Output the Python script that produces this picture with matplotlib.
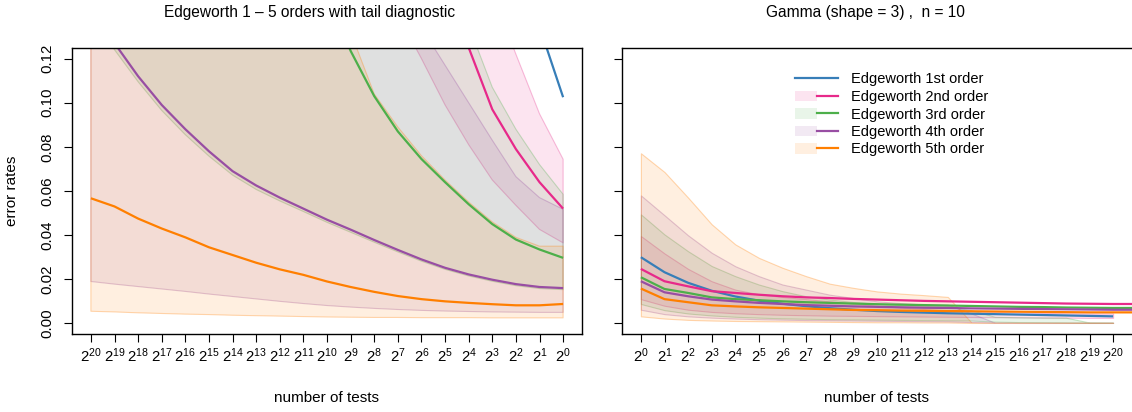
import matplotlib
matplotlib.use("Agg")
import matplotlib.pyplot as plt
import numpy as np
from matplotlib.colors import to_rgba
from matplotlib.lines import Line2D
from matplotlib.patches import Patch
from matplotlib.legend_handler import HandlerTuple

plt.rcParams["font.family"] = ["Liberation Sans", "DejaVu Sans"]
plt.rcParams["mathtext.fontset"] = "custom"
plt.rcParams["mathtext.rm"] = "Liberation Sans"
plt.rcParams["mathtext.it"] = "Liberation Sans:italic"
plt.rcParams["mathtext.bf"] = "Liberation Sans:bold"

FS = 10.5

# ---- labels -------------------------------------------------------------
ORDER_LABELS = ["Edgeworth 1st order", "Edgeworth 2nd order", "Edgeworth 3rd order",
                "Edgeworth 4th order", "Edgeworth 5th order"]
COLORS = ["#377EB8", "#E7298A", "#4DAF4A", "#984EA3", "#FF7F00"]
LEFT_EXP = list(range(20, -1, -1))   # tick labels 2^20 ... 2^0
RIGHT_EXP = list(range(0, 21))       # tick labels 2^0 ... 2^20

# ---- left panel: Edgeworth 1-5 with tail diagnostic ----------------------
left_o1 = [0.60, 0.55, 0.50, 0.46, 0.42, 0.39, 0.36, 0.33, 0.31, 0.29, 0.27,
           0.25, 0.235, 0.22, 0.205, 0.19, 0.178, 0.165, 0.15, 0.1345, 0.1025]
left_o2 = [0.90, 0.80, 0.72, 0.65, 0.58, 0.52, 0.47, 0.42, 0.38, 0.34, 0.31,
           0.28, 0.25, 0.22, 0.19, 0.16, 0.125, 0.097, 0.079, 0.064, 0.052]
left_o3 = [0.62, 0.56, 0.50, 0.45, 0.40, 0.36, 0.32, 0.28, 0.24, 0.19, 0.15,
           0.1235, 0.103, 0.087, 0.0745, 0.064, 0.054, 0.045, 0.038, 0.0335, 0.0297]
left_o4 = [0.142, 0.127, 0.112, 0.099, 0.088, 0.078, 0.069, 0.0625, 0.057, 0.052, 0.047,
           0.0425, 0.0378, 0.0333, 0.029, 0.0252, 0.0222, 0.0198, 0.0178, 0.0165, 0.016]
left_o5 = [0.0567, 0.053, 0.0475, 0.043, 0.039, 0.0345, 0.031, 0.0275, 0.0245, 0.022, 0.019,
           0.0165, 0.0143, 0.0124, 0.011, 0.0100, 0.0093, 0.0087, 0.0082, 0.0082, 0.0088]

left_o2_lo = [0.70, 0.62, 0.55, 0.49, 0.44, 0.39, 0.35, 0.31, 0.27, 0.235, 0.205,
              0.18, 0.16, 0.14, 0.12, 0.099, 0.081, 0.065, 0.0535, 0.0426, 0.0365]
left_o2_hi = [1.40, 1.25, 1.10, 1.00, 0.90, 0.80, 0.72, 0.64, 0.57, 0.50, 0.45,
              0.40, 0.35, 0.31, 0.27, 0.23, 0.19, 0.15, 0.122, 0.095, 0.0744]
left_o3_lo = [0.139, 0.124, 0.1095, 0.0965, 0.0855, 0.0758, 0.0672, 0.0607, 0.0555, 0.0507, 0.0458,
              0.0413, 0.0368, 0.0324, 0.0282, 0.0245, 0.0215, 0.0191, 0.0171, 0.0158, 0.0153]
left_o3_hi = [1.00, 0.90, 0.80, 0.72, 0.65, 0.58, 0.52, 0.46, 0.41, 0.36, 0.32,
              0.28, 0.25, 0.22, 0.195, 0.17, 0.135, 0.107, 0.088, 0.072, 0.0585]
left_o4_lo = [0.019, 0.0178, 0.0167, 0.0156, 0.0145, 0.0133, 0.0122, 0.0111, 0.0100, 0.0090, 0.0081,
              0.0074, 0.0068, 0.0063, 0.0059, 0.0056, 0.0054, 0.0052, 0.0051, 0.0050, 0.0050]
left_o4_hi = [0.50, 0.46, 0.42, 0.39, 0.36, 0.33, 0.30, 0.28, 0.26, 0.24, 0.22,
              0.20, 0.18, 0.16, 0.134, 0.117, 0.100, 0.083, 0.0665, 0.057, 0.0517]
left_o5_lo = [0.0055, 0.0052, 0.0048, 0.0045, 0.0042, 0.0040, 0.0037, 0.0035, 0.0033, 0.0031, 0.0029,
              0.0028, 0.0027, 0.0027, 0.0026, 0.0026, 0.0026, 0.0025, 0.0025, 0.0025, 0.0025]
left_o5_hi = [0.70, 0.63, 0.56, 0.50, 0.45, 0.40, 0.35, 0.30, 0.26, 0.20, 0.16,
              0.132, 0.104, 0.089, 0.076, 0.065, 0.055, 0.046, 0.039, 0.035, 0.035]

# ---- right panel: Gamma(shape = 3), n = 10 -------------------------------
right_o1 = [0.030, 0.0232, 0.0184, 0.0148, 0.0122, 0.0103, 0.0089, 0.0078, 0.0069, 0.0062, 0.0056,
            0.0052, 0.0049, 0.0046, 0.0044, 0.0042, 0.0040, 0.0038, 0.0036, 0.0034, 0.0032]
right_o2 = [0.0247, 0.0191, 0.0168, 0.0146, 0.0138, 0.0130, 0.0123, 0.0118, 0.0115, 0.0111, 0.0108,
            0.0105, 0.0102, 0.0100, 0.0098, 0.0096, 0.0094, 0.0092, 0.0090, 0.0089, 0.0088, 0.0088]
right_o3 = [0.0209, 0.0156, 0.0138, 0.0118, 0.0110, 0.0105, 0.0100, 0.0096, 0.0093, 0.0090, 0.0087,
            0.0085, 0.0083, 0.0081, 0.0079, 0.0077, 0.0075, 0.0074, 0.0072, 0.0071, 0.0070, 0.0070]
right_o4 = [0.0191, 0.0141, 0.0123, 0.0108, 0.0100, 0.0093, 0.0088, 0.0083, 0.0080, 0.0077, 0.0075,
            0.0073, 0.0071, 0.0070, 0.0068, 0.0067, 0.0066, 0.0065, 0.0064, 0.0063, 0.0062, 0.0062]
right_o5 = [0.0158, 0.0110, 0.0096, 0.0082, 0.0077, 0.0073, 0.0070, 0.0067, 0.0064, 0.0061, 0.0060,
            0.0058, 0.0057, 0.0056, 0.0055, 0.0054, 0.0053, 0.0052, 0.0051, 0.0050, 0.0050, 0.0050]

right_o2_lo = [0.0110, 0.0080, 0.0062, 0.0052, 0.0046, 0.0042, 0.0039, 0.0037, 0.0035, 0.0034, 0.0033,
               0.0032, 0.0031, 0.0030, 0.0029, 0.0028, 0.0027, 0.0026, 0.0026, 0.0025, 0.0025]
right_o2_hi = [0.0396, 0.0317, 0.0247, 0.0191, 0.0153, 0.0132, 0.0120, 0.0110, 0.0100, 0.0090, 0.0080,
               0.0072, 0.0065, 0.0060, 0.0056, 0.0053, 0.0050, 0.0048, 0.0046, 0.0045, 0.0045]
right_o3_lo = [0.0088, 0.0060, 0.0045, 0.0036, 0.0030, 0.0026, 0.0023, 0.0021, 0.0019, 0.0018, 0.0017,
               0.0016, 0.0015, 0.0014, 0.0013, 0.0008, 0.0006, 0.0005, 0.0004, 0.0003, 0.0003]
right_o3_hi = [0.0494, 0.0403, 0.0327, 0.0260, 0.0214, 0.0176, 0.0146, 0.0123, 0.0108, 0.0097, 0.0089,
               0.0083, 0.0079, 0.0076, 0.0060, 0.0030, 0.0028, 0.0027, 0.0026, 0.0004, 0.0003]
right_o4_lo = [0.0062, 0.0042, 0.0032, 0.0026, 0.0022, 0.0019, 0.0017, 0.0015, 0.0014, 0.0013, 0.0012,
               0.0011, 0.0010, 0.0009, 0.0006, 0.0003, 0.0002, 0.0002, 0.0002, 0.0002, 0.0002]
right_o4_hi = [0.0580, 0.0490, 0.0399, 0.0320, 0.0259, 0.0214, 0.0176, 0.0153, 0.0130, 0.0115, 0.0100,
               0.0092, 0.0086, 0.0085, 0.0045, 0.0003, 0.0003, 0.0003, 0.0003, 0.0003, 0.0003]
right_o5_lo = [0.0032, 0.0022, 0.0016, 0.0013, 0.0011, 0.0010, 0.0009, 0.0008, 0.0007, 0.0006, 0.0005,
               0.0005, 0.0004, 0.0004, 0.0002, 0.0002, 0.0002, 0.0002, 0.0002, 0.0002, 0.0002]
right_o5_hi = [0.0771, 0.0686, 0.0570, 0.0449, 0.0358, 0.0297, 0.0252, 0.0214, 0.0180, 0.0161, 0.0145,
               0.0135, 0.0128, 0.0120, 0.0004, 0.0003, 0.0003, 0.0003, 0.0003, 0.0003, 0.0003]


def draw_panel(ax, lines, bands, exps):
    # bands: list of (order_index, lo, hi)
    for k, lo, hi in bands:
        x = np.arange(len(lo))
        ax.fill_between(x, lo, hi, facecolor=to_rgba(COLORS[k], 0.12),
                        edgecolor=to_rgba(COLORS[k], 0.30), linewidth=0.8)
    for k, y in enumerate(lines):
        ax.plot(np.arange(len(y)), y, color=COLORS[k], lw=1.6, solid_capstyle="butt")
    ax.set_xlim(-0.8, 20.8)
    ax.set_ylim(-0.0048, 0.1248)
    ax.set_xticks(np.arange(len(exps)))
    ax.set_xticklabels([rf"$\mathregular{{2^{{{e}}}}}$" for e in exps])
    ax.set_yticks(np.arange(0, 0.121, 0.02))
    ax.tick_params(axis="both", direction="out", length=6, width=0.8,
                   labelsize=FS + 0.3, color="black")
    ax.tick_params(axis="x", pad=3)
    ax.tick_params(axis="y", pad=6.5, labelrotation=90)
    for lab in ax.get_yticklabels():
        lab.set_va("center")
    for s in ax.spines.values():
        s.set_linewidth(1.0)


fig = plt.figure(figsize=(11.32, 4.12), dpi=100)
W, H = 1132.0, 412.0
ax1 = fig.add_axes([72 / W, (H - 334) / H, (582 - 72) / W, (334 - 48) / H])
ax2 = fig.add_axes([622 / W, (H - 334) / H, (1132 - 622) / W, (334 - 48) / H])

draw_panel(ax1, [left_o1, left_o2, left_o3, left_o4, left_o5],
           [(1, left_o2_lo, left_o2_hi), (2, left_o3_lo, left_o3_hi),
            (3, left_o4_lo, left_o4_hi), (4, left_o5_lo, left_o5_hi)],
           LEFT_EXP)
ax1.set_yticklabels([f"{v:.2f}" for v in np.arange(0, 0.121, 0.02)])

draw_panel(ax2, [right_o1, right_o2, right_o3, right_o4, right_o5],
           [(1, right_o2_lo, right_o2_hi), (2, right_o3_lo, right_o3_hi),
            (3, right_o4_lo, right_o4_hi), (4, right_o5_lo, right_o5_hi)],
           RIGHT_EXP)
ax2.set_yticklabels([])
ax2.spines["right"].set_visible(False)

# legend (bands shown as soft background behind orders 2-5)
handles = [Line2D([], [], color=COLORS[0], lw=1.6)]
for k in range(1, 5):
    handles.append((Patch(facecolor=to_rgba(COLORS[k], 0.12), edgecolor="none"),
                    Line2D([], [], color=COLORS[k], lw=1.6)))
ax2.legend(handles, ORDER_LABELS, handler_map={tuple: HandlerTuple(ndivide=None, pad=0)},
           loc="upper left", bbox_to_anchor=(795 / W, (H - 72.5) / H),
           bbox_transform=fig.transFigure, frameon=False, fontsize=FS,
           borderpad=0, borderaxespad=0, handlelength=2.95, handletextpad=0.9,
           labelspacing=0.24)

fig.text(310 / W, 1 - 12 / H, "Edgeworth 1 \u2013 5 orders with tail diagnostic",
         ha="center", va="center", fontsize=11.2)
fig.text(865 / W, 1 - 12 / H, "Gamma (shape = 3) ,  n = 10",
         ha="center", va="center", fontsize=11.2)
fig.text(327 / W, 14 / H, "number of tests", ha="center", va="center", fontsize=11)
fig.text(877 / W, 14 / H, "number of tests", ha="center", va="center", fontsize=11)
fig.text(11.7 / W, (H - 191) / H, "error rates", rotation=90,
         ha="center", va="center", fontsize=11)

fig.savefig("out.png", dpi=100)
